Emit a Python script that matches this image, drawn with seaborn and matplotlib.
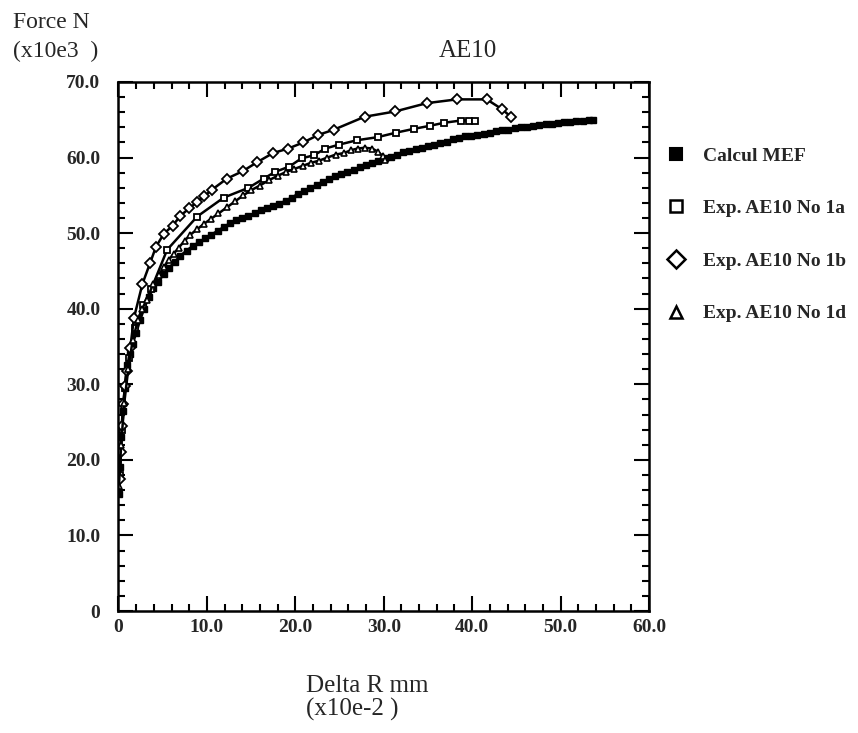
import matplotlib
matplotlib.use('Agg')
import matplotlib.pyplot as plt
import numpy as np
import pandas as pd
import seaborn as sns
from matplotlib.lines import Line2D
from matplotlib.ticker import MultipleLocator, FuncFormatter

# ---- data ----
series_names = ["Calcul MEF", "Exp. AE10 No 1a", "Exp. AE10 No 1b", "Exp. AE10 No 1d"]

mef_x = [0.05, 0.15, 0.3, 0.5, 0.7, 0.95, 1.25, 1.6, 2.0, 2.45, 2.9, 3.4, 3.95, 4.5, 5.1,
         5.7, 6.35, 7.0, 7.7, 8.4, 9.1, 9.8, 10.5, 11.2, 11.9, 12.6, 13.3, 14.0, 14.7, 15.4,
         16.1, 16.8, 17.5, 18.2, 18.9, 19.6, 20.3, 21.0, 21.7, 22.4, 23.1, 23.8, 24.5, 25.2,
         25.9, 26.6, 27.3, 28.0, 28.7, 29.4, 30.1, 30.8, 31.5, 32.2, 32.9, 33.6, 34.3, 35.0,
         35.7, 36.4, 37.1, 37.8, 38.5, 39.2, 39.9, 40.6, 41.3, 42.0, 42.7, 43.4, 44.1, 44.8,
         45.5, 46.2, 46.9, 47.6, 48.3, 49.0, 49.7, 50.4, 51.1, 51.8, 52.5, 53.2, 53.7]
mef_y = [15.5, 19.0, 23.0, 26.5, 29.5, 32.6, 34.0, 35.3, 36.8, 38.5, 40.0, 41.5, 42.7, 43.6, 44.6,
         45.4, 46.2, 47.0, 47.7, 48.3, 48.8, 49.3, 49.8, 50.3, 50.8, 51.3, 51.7, 52.0, 52.3, 52.6,
         53.0, 53.3, 53.6, 53.9, 54.3, 54.7, 55.2, 55.6, 56.0, 56.4, 56.8, 57.1, 57.5, 57.8,
         58.1, 58.4, 58.7, 59.0, 59.3, 59.6, 59.9, 60.1, 60.4, 60.7, 60.9, 61.1, 61.3, 61.5,
         61.7, 61.9, 62.1, 62.4, 62.6, 62.8, 62.9, 63.0, 63.1, 63.3, 63.5, 63.6, 63.7, 63.9,
         64.0, 64.1, 64.2, 64.3, 64.4, 64.5, 64.6, 64.7, 64.75, 64.8, 64.9, 64.95, 65.0]

exp1a_x = [0.15, 0.4, 0.75, 1.2, 1.9, 2.8, 3.7, 5.5, 8.9, 11.9, 14.7, 16.4, 17.7, 19.3, 20.7,
           22.1, 23.4, 24.9, 27.0, 29.3, 31.4, 33.4, 35.2, 36.8, 38.7, 39.6, 40.3]
exp1a_y = [18.0, 24.0, 29.5, 33.5, 37.5, 40.5, 42.6, 47.8, 52.2, 54.7, 56.0, 57.2, 58.1, 58.8, 59.9,
           60.3, 61.2, 61.7, 62.3, 62.7, 63.3, 63.8, 64.2, 64.6, 64.9, 64.9, 64.9]

exp1b_x = [0.15, 0.25, 0.36, 0.54, 0.74, 0.93, 1.33, 1.75, 2.71, 3.59, 4.24, 5.12, 6.13, 7.01,
           8.01, 8.86, 9.71, 10.52, 12.24, 14.05, 15.7, 17.48, 19.21, 20.9, 22.6, 24.38, 27.83,
           31.28, 34.86, 38.26, 41.65, 43.38, 44.37]
exp1b_y = [17.5, 21.0, 24.5, 27.4, 29.8, 31.8, 34.8, 38.8, 43.3, 46.1, 48.2, 49.9, 51.0, 52.3,
           53.3, 54.1, 54.9, 55.7, 57.2, 58.2, 59.4, 60.6, 61.2, 62.0, 63.0, 63.7, 65.4,
           66.1, 67.2, 67.7, 67.7, 66.4, 65.4]

exp1d_x = [0.05, 0.3, 0.65, 1.1, 1.6, 2.2, 2.7, 3.19, 3.94, 4.54, 5.15, 5.71, 6.27, 6.83, 7.48,
           8.14, 8.88, 9.63, 10.47, 11.31, 12.24, 13.18, 14.11, 15.04, 15.98, 17.0, 18.03, 18.96,
           19.9, 20.83, 21.76, 22.7, 23.63, 24.56, 25.5, 26.34, 27.08, 27.83, 28.67, 29.32,
           29.88, 30.16]
exp1d_y = [16.5, 22.0, 27.5, 32.0, 35.8, 38.5, 40.0, 41.2, 43.3, 44.5, 45.5, 46.5, 47.3, 48.1, 49.0,
           49.8, 50.5, 51.2, 51.9, 52.6, 53.4, 54.2, 55.0, 55.7, 56.3, 57.0, 57.6, 58.1,
           58.5, 58.9, 59.3, 59.6, 60.0, 60.4, 60.6, 61.0, 61.2, 61.3, 61.2, 60.8,
           60.2, 59.7]

# ---- style ----
sns.set_style('ticks')
plt.rcParams['font.family'] = ['Liberation Serif', 'DejaVu Serif']

W, H = 858, 733
fig = plt.figure(figsize=(W / 100, H / 100), dpi=100)
ax = fig.add_axes([118.5 / W, 1 - 611 / H, (649 - 118.5) / W, (611 - 82) / H])

styles = [
    (mef_x, mef_y, 's', 3.8, 'black', 1.0),
    (exp1a_x, exp1a_y, 's', 4.6, 'white', 1.3),
    (exp1b_x, exp1b_y, 'D', 5.0, 'white', 1.3),
    (exp1d_x, exp1d_y, '^', 4.4, 'white', 1.2),
]
for name, (xs, ys, m, ms, fc, mew) in zip(series_names, styles):
    df = pd.DataFrame({'x': xs, 'y': ys})
    sns.lineplot(data=df, x='x', y='y', ax=ax, color='black', linewidth=1.8,
                 marker=m, markersize=ms, markerfacecolor=fc, markeredgecolor='black',
                 markeredgewidth=mew, estimator=None, sort=False, legend=False)

ax.set_xlim(0, 60)
ax.set_ylim(0, 70)
ax.set_xlabel('')
ax.set_ylabel('')

ax.xaxis.set_major_locator(MultipleLocator(10))
ax.xaxis.set_minor_locator(MultipleLocator(2))
ax.yaxis.set_major_locator(MultipleLocator(10))
ax.yaxis.set_minor_locator(MultipleLocator(2))
fmt = FuncFormatter(lambda v, p: '0' if abs(v) < 1e-9 else f'{v:.1f}')
ax.xaxis.set_major_formatter(fmt)
ax.yaxis.set_major_formatter(fmt)

ax.tick_params(which='both', direction='in', top=True, right=True, color='black', width=1.5)
ax.tick_params(which='major', length=11)
ax.tick_params(which='minor', length=5)
ax.tick_params(axis='x', which='major', pad=6)
ax.tick_params(axis='y', which='major', pad=13)
for lab in ax.get_xticklabels() + ax.get_yticklabels():
    lab.set_fontsize(14)
    lab.set_fontweight('bold')
    lab.set_family(['Liberation Serif', 'DejaVu Serif'])
for sp in ax.spines.values():
    sp.set_visible(True)
    sp.set_linewidth(1.8)
    sp.set_color('black')

# ---- texts ----
fig.text(13 / W, 1 - 28 / H, 'Force N', fontsize=17, ha='left', va='baseline')
fig.text(13 / W, 1 - 57 / H, '(x10e3  )', fontsize=17, ha='left', va='baseline')
fig.text(439 / W, 1 - 57 / H, 'AE10', fontsize=18, ha='left', va='baseline')
fig.text(306 / W, 1 - 692 / H, 'Delta R mm', fontsize=18, ha='left', va='baseline')
fig.text(306 / W, 1 - 716 / H, '(x10e-2 )', fontsize=18, ha='left', va='baseline')

# ---- legend ----
handles = [
    Line2D([], [], ls='none', marker='s', ms=9, mfc='black', mec='black', mew=1.5),
    Line2D([], [], ls='none', marker='s', ms=9, mfc='white', mec='black', mew=1.8),
    Line2D([], [], ls='none', marker='D', ms=9, mfc='white', mec='black', mew=1.8),
    Line2D([], [], ls='none', marker='^', ms=8, mfc='white', mec='black', mew=1.8),
]
fig.legend(handles, series_names, loc='upper left',
           bbox_to_anchor=(666 / W, 1 - 147 / H), frameon=False,
           prop={'family': 'Liberation Serif', 'weight': 'bold', 'size': 14},
           handlelength=1.0, handletextpad=0.9, labelspacing=1.8,
           borderpad=0, borderaxespad=0)

fig.savefig('out.png', dpi=100)
